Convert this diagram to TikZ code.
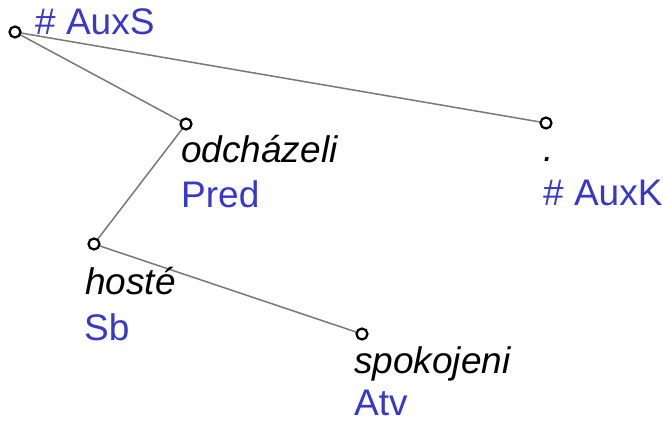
\documentclass[tikz,border=0pt]{standalone}
\usepackage{fontspec}
\setmainfont{Liberation Sans}
\definecolor{funcblue}{RGB}{55,55,205}
\definecolor{edgegray}{RGB}{120,120,120}
\begin{document}
\begin{tikzpicture}[x=1pt,y=-1pt,
  treenode/.style={circle,draw=black,fill=white,line width=2.2pt,minimum size=11pt,inner sep=0pt},
  edge/.style={draw=edgegray,line width=1.5pt},
  form/.style={anchor=base west,inner sep=0pt,font=\fontsize{37}{45}\selectfont\itshape,text=black},
  func/.style={anchor=base west,inner sep=0pt,font=\fontsize{37}{45}\selectfont,text=funcblue}]
  \useasboundingbox (0,0) rectangle (663,422);
  % vertex positions
  \path (15,32) coordinate (root)
        (186,124) coordinate (pred)
        (546,123) coordinate (auxk)
        (94,244) coordinate (sb)
        (362,334) coordinate (atv);
  % dependency edges
  \path[edge] (root) -- (pred);
  \path[edge] (root) -- (auxk);
  \path[edge] (pred) -- (sb);
  \path[edge] (sb) -- (atv);
  % vertex circles on top of the edges
  \node[treenode] (vroot) at (root) {};
  \node[treenode] (vpred) at (pred) {};
  \node[treenode] (vauxk) at (auxk) {};
  \node[treenode] (vsb) at (sb) {};
  \node[treenode] (vatv) at (atv) {};
  % word forms and functors
  \node[func] (lroot) at (35,35) {\# AuxS};
  \node[form] (fpred) at (181,163) {odcházeli};
  \node[func] (lpred) at (181,207) {Pred};
  \node[form] (fauxk) at (543,162) {.};
  \node[func] (lauxk) at (543,205) {\# AuxK};
  \node[form] (fsb) at (85,294) {hosté};
  \node[func] (lsb) at (84,340) {Sb};
  \node[form] (fatv) at (354,373) {spokojeni};
  \node[func] (latv) at (354,415) {Atv};
\end{tikzpicture}
\end{document}
